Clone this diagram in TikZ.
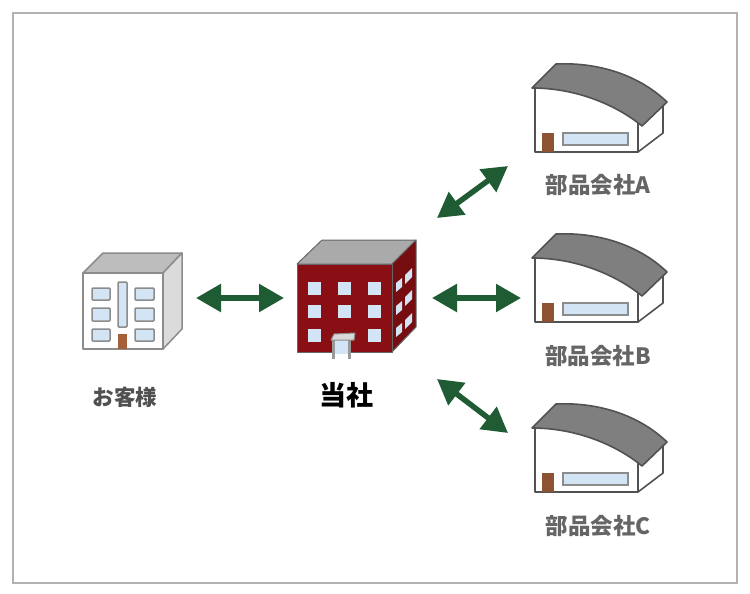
\documentclass[tikz,border=0pt]{standalone}
\usepackage{fontspec}
\setmainfont{Noto Sans CJK JP}
\usepackage{xcolor}
\usetikzlibrary{arrows.meta}

\definecolor{arrowgreen}{HTML}{1F5B33}
\definecolor{winblue}{HTML}{D3E5F5}
\definecolor{doorbrown}{HTML}{A5603A}
\definecolor{brickred}{HTML}{8A0F14}
\definecolor{darkroof}{HTML}{7F7F7F}
\definecolor{lightroof}{HTML}{BDBDBD}
\definecolor{edgegray}{HTML}{8C8C8C}
\definecolor{textgray}{HTML}{505050}

\tikzset{
  biglink/.style={arrowgreen, line width=5.5pt, {Triangle[length=25pt,width=27pt]}-{Triangle[length=25pt,width=27pt]}},
  officeline/.style={edgegray, line width=1.5pt, line join=round},
  officewin/.style={draw=edgegray, fill=winblue, line width=1.5pt, rounded corners=1pt},
  redwin/.style={fill=winblue, draw=none},
  factline/.style={draw=black!68, line width=1.6pt, line join=round},
  factwin/.style={draw=edgegray, fill=winblue, line width=1.2pt},
  partlabel/.style={textgray!88, font=\fontsize{22.5}{26}\selectfont\bfseries, inner sep=0pt},
}

\begin{document}
\begin{tikzpicture}[x=1pt,y=-1pt]
\useasboundingbox (0,0) rectangle (750,594);
\fill [white] (0,0) rectangle (750,594);

\draw [black!30, line width=1.1pt] (13,13) rectangle (737,583);

% customer
\draw [officeline, fill=lightroof] (83,273) -- (103,253) -- (182,253) -- (163,273) -- cycle;
\draw [officeline, fill=black!14] (163,273) -- (182,253) -- (182,329) -- (163,349) -- cycle;
\draw [officeline, fill=white] (83,273) rectangle (163,349);
\draw [officewin] (92,288) rectangle (110,300);
\draw [officewin] (92,308) rectangle (110,321);
\draw [officewin] (92,329) rectangle (110,341);
\draw [officewin] (135,288) rectangle (154,300);
\draw [officewin] (135,308) rectangle (154,321);
\draw [officewin] (135,329) rectangle (154,341);
\draw [officewin] (118,282) rectangle (127,327);
\fill [doorbrown] (118,334) rectangle (127,349);
\node [textgray, font=\fontsize{21.5}{24}\selectfont\bfseries, inner sep=0pt] (customer) at (125,397) {お客様};

% our company
\draw [black!60, line width=1pt, fill=lightroof!90!black, line join=round] (297,264) -- (322,240) -- (416,240) -- (392,264) -- cycle;
\draw [black!60, line width=1pt, fill=brickred!85!black, line join=round] (392,264) -- (416,240) -- (416,327) -- (392,352) -- cycle;
\draw [black!60, line width=1pt, fill=brickred, line join=round] (297,264) rectangle (392,352);
\fill [redwin] (308,282) rectangle (321,295);
\fill [redwin] (338,282) rectangle (351,295);
\fill [redwin] (368,282) rectangle (381,295);
\fill [redwin] (308,305) rectangle (321,318);
\fill [redwin] (338,305) rectangle (351,318);
\fill [redwin] (368,305) rectangle (381,318);
\fill [redwin] (308,329) rectangle (321,342);
\fill [redwin] (368,329) rectangle (381,342);
\fill [redwin] (396,283) -- (402,278) -- (402,287) -- (396,292) -- cycle;
\fill [redwin] (405,275) -- (412,268) -- (412,277) -- (405,284) -- cycle;
\fill [redwin] (396,306) -- (402,301) -- (402,310) -- (396,315) -- cycle;
\fill [redwin] (405,297) -- (412,290) -- (412,299) -- (405,306) -- cycle;
\fill [redwin] (396,328) -- (402,323) -- (402,332) -- (396,337) -- cycle;
\fill [redwin] (405,320) -- (412,313) -- (412,322) -- (405,329) -- cycle;
% entrance
\fill [winblue] (335,340) rectangle (348,354);
\draw [black!40, line width=3pt] (333.5,340) -- (333.5,359);
\draw [black!40, line width=3pt] (349.5,340) -- (349.5,359);
\draw [black!45, line width=1pt, fill=black!15, line join=round] (331,340) -- (334,334) -- (355,333) -- (354,340) -- cycle;
\node [black, font=\fontsize{27}{30}\selectfont\bfseries, inner sep=0pt] (company) at (346,395) {当社};

% parts maker A
\begin{scope}
\fill [white] (535,88) -- (535,152) -- (638,152) -- (638,120) -- cycle;
\draw [factline] (535,88) -- (535,152) -- (638,152) -- (638,120);
\draw [factline, fill=white] (638,152) -- (663,133) -- (663,100) -- (638,122) -- cycle;
\fill [doorbrown!85!black] (542,133) rectangle (554,152);
\draw [factwin] (563,133) rectangle (628,145);
\draw [factline, fill=darkroof] (532,88) -- (556,64) .. controls (600,62) and (640,76) .. (667,102) -- (642,126) .. controls (615,104) and (575,88) .. (532,88) -- cycle;
\end{scope}
\node [partlabel] (partsA) at (598,185) {部品会社A};

% parts maker B
\begin{scope}[shift={(0,170)}]
\fill [white] (535,88) -- (535,152) -- (638,152) -- (638,120) -- cycle;
\draw [factline] (535,88) -- (535,152) -- (638,152) -- (638,120);
\draw [factline, fill=white] (638,152) -- (663,133) -- (663,100) -- (638,122) -- cycle;
\fill [doorbrown!85!black] (542,133) rectangle (554,152);
\draw [factwin] (563,133) rectangle (628,145);
\draw [factline, fill=darkroof] (532,88) -- (556,64) .. controls (600,62) and (640,76) .. (667,102) -- (642,126) .. controls (615,104) and (575,88) .. (532,88) -- cycle;
\end{scope}
\node [partlabel] (partsB) at (598,356) {部品会社B};

% parts maker C
\begin{scope}[shift={(0,340)}]
\fill [white] (535,88) -- (535,152) -- (638,152) -- (638,120) -- cycle;
\draw [factline] (535,88) -- (535,152) -- (638,152) -- (638,120);
\draw [factline, fill=white] (638,152) -- (663,133) -- (663,100) -- (638,122) -- cycle;
\fill [doorbrown!85!black] (542,133) rectangle (554,152);
\draw [factwin] (563,133) rectangle (628,145);
\draw [factline, fill=darkroof] (532,88) -- (556,64) .. controls (600,62) and (640,76) .. (667,102) -- (642,126) .. controls (615,104) and (575,88) .. (532,88) -- cycle;
\end{scope}
\node [partlabel] (partsC) at (598,526) {部品会社C};

% links
\coordinate (customerR) at (196,298);
\coordinate (companyL) at (284,298);
\coordinate (companyA) at (437,218);
\coordinate (companyB) at (432,298);
\coordinate (companyC) at (437,379);
\coordinate (makerA) at (508,166);
\coordinate (makerB) at (521,298);
\coordinate (makerC) at (508,433);

\draw [biglink] (customerR) -- (companyL);
\draw [biglink] (companyA) -- (makerA);
\draw [biglink] (companyB) -- (makerB);
\draw [biglink] (companyC) -- (makerC);

\end{tikzpicture}
\end{document}
